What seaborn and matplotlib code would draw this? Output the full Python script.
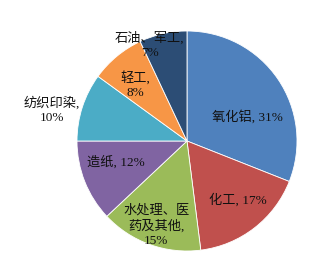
import matplotlib
matplotlib.use('Agg')
import matplotlib.pyplot as plt
import seaborn as sns

sns.set_theme(style='white')
plt.rcParams['font.family'] = ['Liberation Serif', 'Noto Sans CJK SC']

sectors = ['氧化铝', '化工', '水处理、医药及其他', '造纸', '纺织印染', '轻工', '石油、军工']
shares = [31, 17, 15, 12, 10, 8, 7]
label_texts = ['氧化铝, 31%', '化工, 17%', '水处理、医\n药及其他,\n15%', '造纸, 12%',
               '纺织印染,\n10%', '轻工,\n8%', '石油、军工,\n7%']
colors = ['#4F81BD', '#C0504D', '#9BBB59', '#8064A2', '#4BACC6', '#F79646', '#2C4D75']

# label spots in pie units (radius = 1)
label_xy = [(0.55, 0.22), (0.46, -0.54), (-0.28, -0.77), (-0.65, -0.19),
            (-1.23, 0.28), (-0.47, 0.51), (-0.34, 0.87)]

fig = plt.figure(figsize=(3.23, 2.73), dpi=100)
ax = fig.add_axes([0, 0, 1, 1])
ax.pie(shares, colors=colors, startangle=90, counterclock=False, radius=1,
       wedgeprops=dict(edgecolor='white', linewidth=0.6))
for txt, (x, y) in zip(label_texts, label_xy):
    ax.text(x, y, txt, ha='center', va='center', fontsize=9.5, color='#111111',
            linespacing=1.25)

ax.set_aspect('auto')
ax.set_xlim(-187 / 110, 136 / 110)
ax.set_ylim(-132 / 110, 141 / 110)
ax.axis('off')
fig.savefig('out.png', dpi=100)
